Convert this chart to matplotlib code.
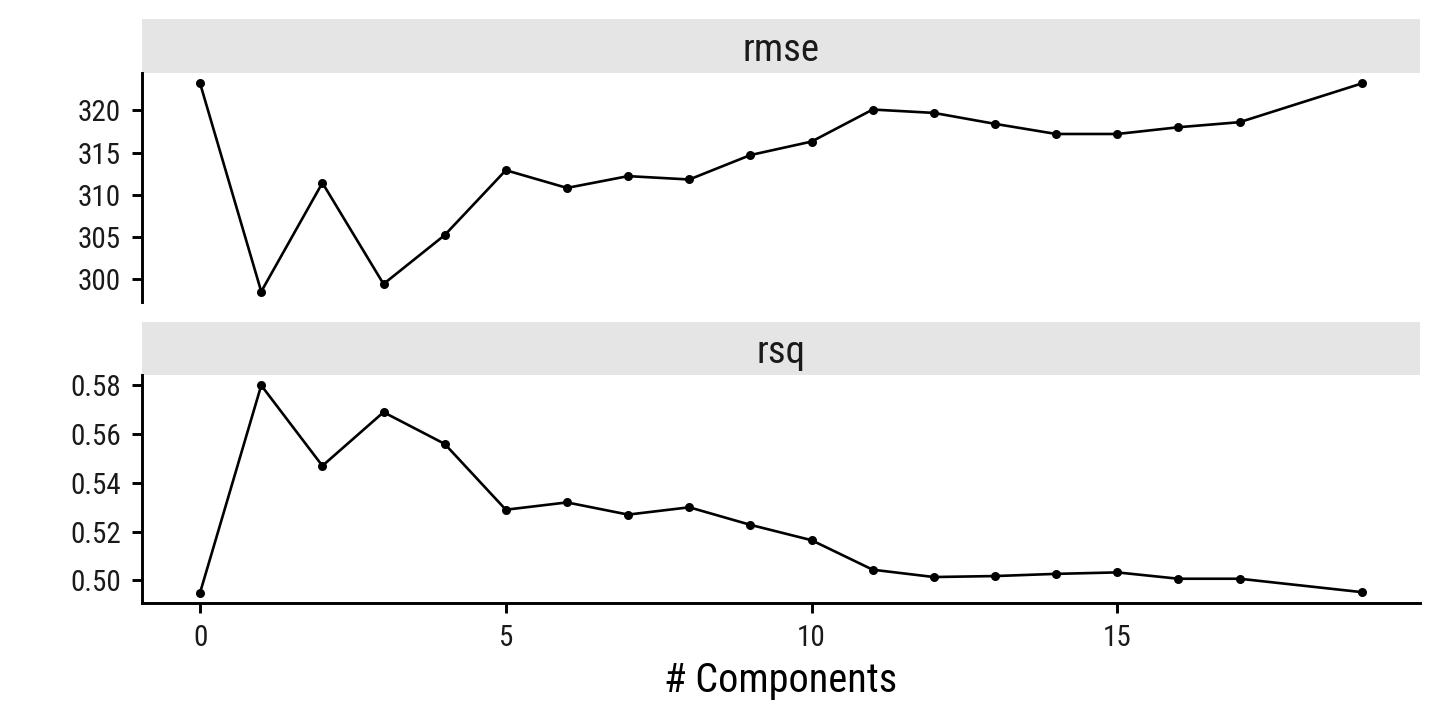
import numpy as np
import matplotlib
matplotlib.use("Agg")
import matplotlib.pyplot as plt
from matplotlib import font_manager

# pick a condensed Roboto if one is around, else plain Roboto
names = {f.name for f in font_manager.fontManager.ttflist}
family = "Roboto Condensed" if "Roboto Condensed" in names else "Roboto"
plt.rcParams["font.family"] = [family, "DejaVu Sans"]

# data
n_comp = [0, 1, 2, 3, 4, 5, 6, 7, 8, 9, 10, 11, 12, 13, 14, 15, 16, 17, 19]
rmse = [323.2, 298.5, 311.4, 299.4, 305.2, 312.9, 310.8, 312.2, 311.8, 314.7,
        316.3, 320.1, 319.7, 318.4, 317.2, 317.2, 318.0, 318.6, 323.2]
rsq = [0.495, 0.580, 0.547, 0.569, 0.556, 0.529, 0.532, 0.527, 0.530, 0.5228,
       0.5165, 0.5044, 0.5014, 0.5018, 0.5027, 0.5033, 0.5007, 0.5007, 0.4952]
panels = ["rmse", "rsq"]
rmse_ticks = [300, 305, 310, 315, 320]
rsq_ticks = [0.50, 0.52, 0.54, 0.56, 0.58]
x_ticks = [0, 5, 10, 15]

W, H = 1440, 720
fig = plt.figure(figsize=(W / 100, H / 100), dpi=100)

left = 142 / W
width = (1420 - 142) / W
# (strip top, panel top, panel bottom) in pixels from the top
boxes = [(19, 73, 302), (322, 375, 603)]

strip_color = "#E5E5E5"
tick_size = 21
axes = []
for (s_top, p_top, p_bot), name, vals, yt in zip(boxes, panels, [rmse, rsq],
                                                 [rmse_ticks, rsq_ticks]):
    sax = fig.add_axes([left, 1 - p_top / H, width, (p_top - s_top) / H])
    sax.set_facecolor(strip_color)
    sax.set_xticks([])
    sax.set_yticks([])
    for sp in sax.spines.values():
        sp.set_visible(False)
    sax.text(0.5, 12 / (p_top - s_top), name, ha="center", va="baseline",
             fontsize=28, color="#1A1A1A", transform=sax.transAxes)

    ax = fig.add_axes([left, 1 - p_bot / H, width, (p_bot - p_top) / H])
    ax.plot(n_comp, vals, color="black", lw=1.9, marker="o", ms=6.5,
            markeredgewidth=0)
    ax.set_xlim(-0.95, 19.95)
    ax.set_yticks(yt)
    if name == "rsq":
        ax.set_yticklabels([f"{v:.2f}" for v in yt])
    else:
        ax.set_yticklabels([str(v) for v in yt])
    for sp in ["top", "right"]:
        ax.spines[sp].set_visible(False)
    ax.spines["left"].set_linewidth(2.1)
    ax.spines["bottom"].set_linewidth(2.1)
    ax.tick_params(axis="both", direction="out", length=7, width=2.1,
                   labelsize=tick_size, pad=8, colors="black",
                   labelcolor="#1A1A1A")
    axes.append(ax)

# top panel has no x axis
axes[0].spines["bottom"].set_visible(False)
axes[0].set_xticks([])
axes[1].set_xticks(x_ticks)

fig.text((142 + 1420) / 2 / W, 1 - 692 / H, "# Components", ha="center",
         va="baseline", fontsize=29, color="black")

fig.savefig("out.png", dpi=100)
